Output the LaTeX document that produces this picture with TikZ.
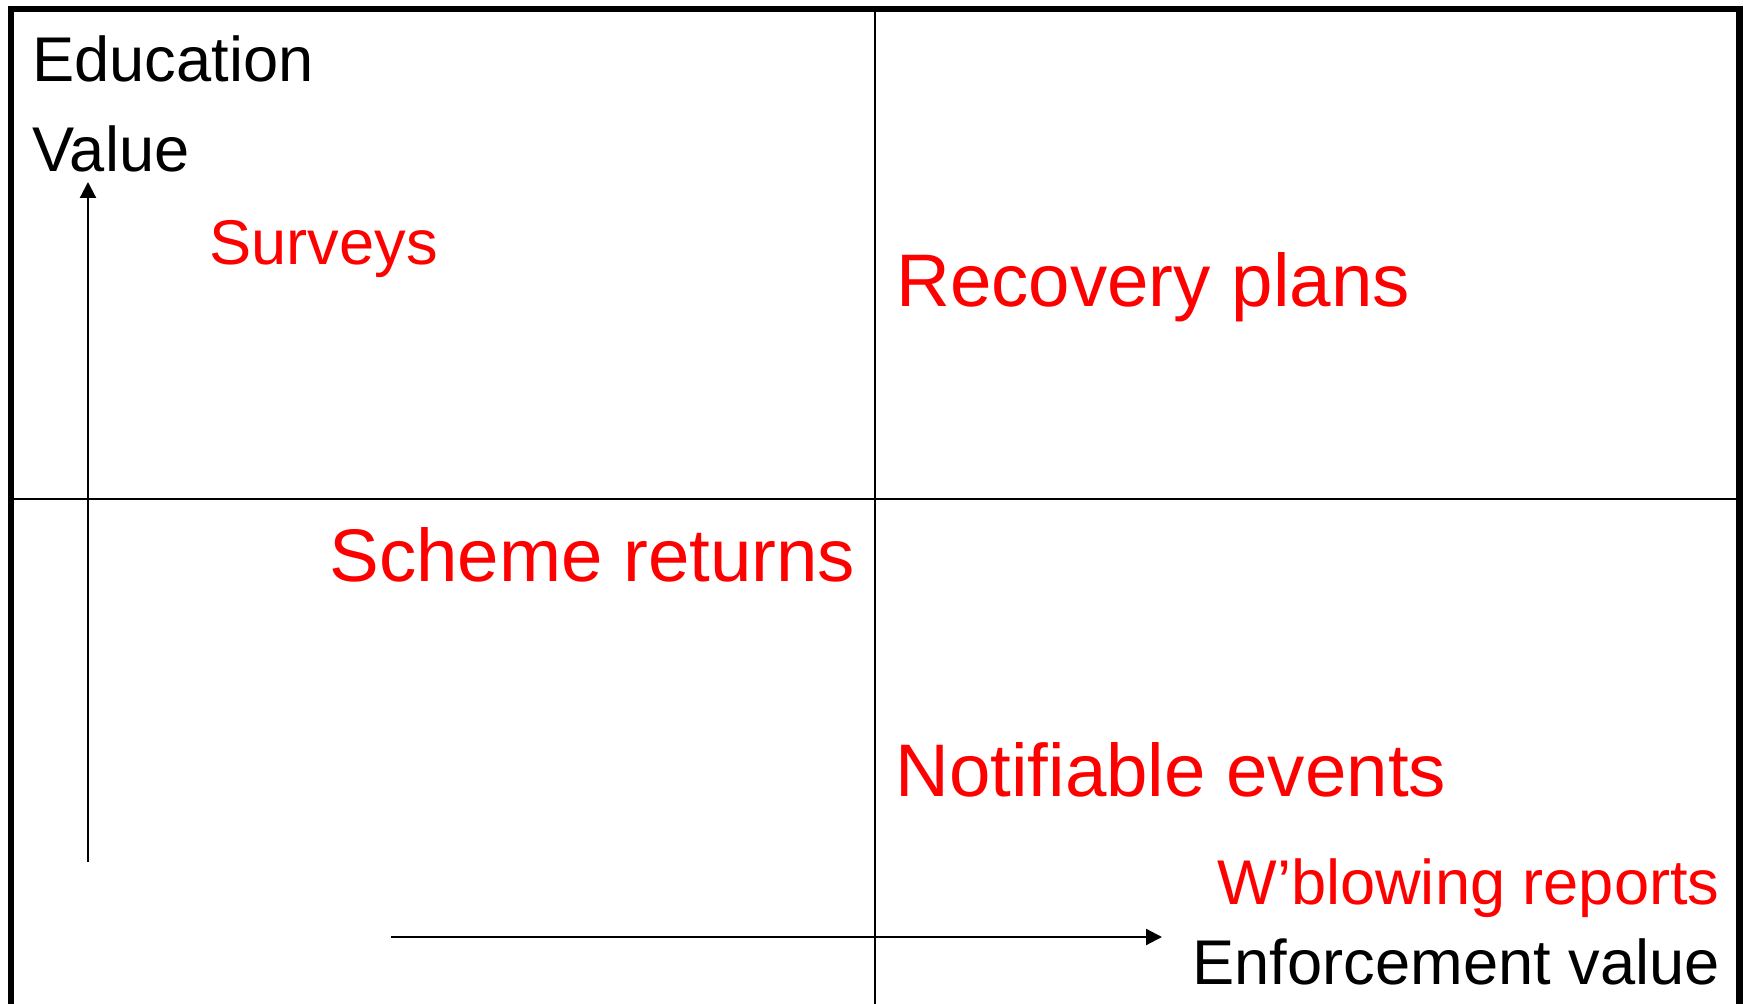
\documentclass[tikz,border=0pt]{standalone}
\usepackage{fontspec}
\setmainfont{Liberation Sans}
\usetikzlibrary{arrows.meta}
\begin{document}
\begin{tikzpicture}[x=0.5pt,y=-0.5pt,
  frame/.style={line width=3.3pt,line join=miter},
  grid/.style={line width=1pt},
  axis/.style={line width=1.1pt,-{Triangle[length=8pt,width=8pt]}},
  lbl/.style={inner sep=0pt,anchor=base west,font=\fontsize{31.6pt}{38pt}\selectfont},
  big/.style={inner sep=0pt,anchor=base west,text=red,font=\fontsize{37.25pt}{44pt}\selectfont},
  mid/.style={inner sep=0pt,anchor=base west,text=red,font=\fontsize{31.6pt}{38pt}\selectfont}]
\useasboundingbox (0,0) rectangle (1745,1004);
% outer frame, open at the bottom
\draw[frame] (11,1010) -- (11,9) -- (1739.5,9) -- (1739.5,1010);
% quadrant dividers
\draw[grid] (11,499) -- (1739.5,499);
\draw[grid] (875,9) -- (875,1010);
% axes
\coordinate (ybase) at (88,862);
\coordinate (ytip) at (88,182);
\coordinate (xbase) at (391,937);
\coordinate (xtip) at (1162,937);
\draw[axis] (ybase) -- (ytip);
\draw[axis] (xbase) -- (xtip);
% axis captions
\node[lbl] (edu) at (32,82) {Education};
\node[lbl] (val) at (32,172) {Value};
\node[lbl,anchor=base east] (enf) at (1720,984) {Enforcement value};
% items
\node[mid] (surv) at (209,265) {Surveys};
\node[big] (rec) at (896,307) {Recovery plans};
\node[big] (sch) at (329,582) {Scheme returns};
\node[big] (note) at (895,797) {Notifiable events};
\node[mid,anchor=base east] (wblow) at (1720,904) {W’blowing reports};
\end{tikzpicture}
\end{document}
